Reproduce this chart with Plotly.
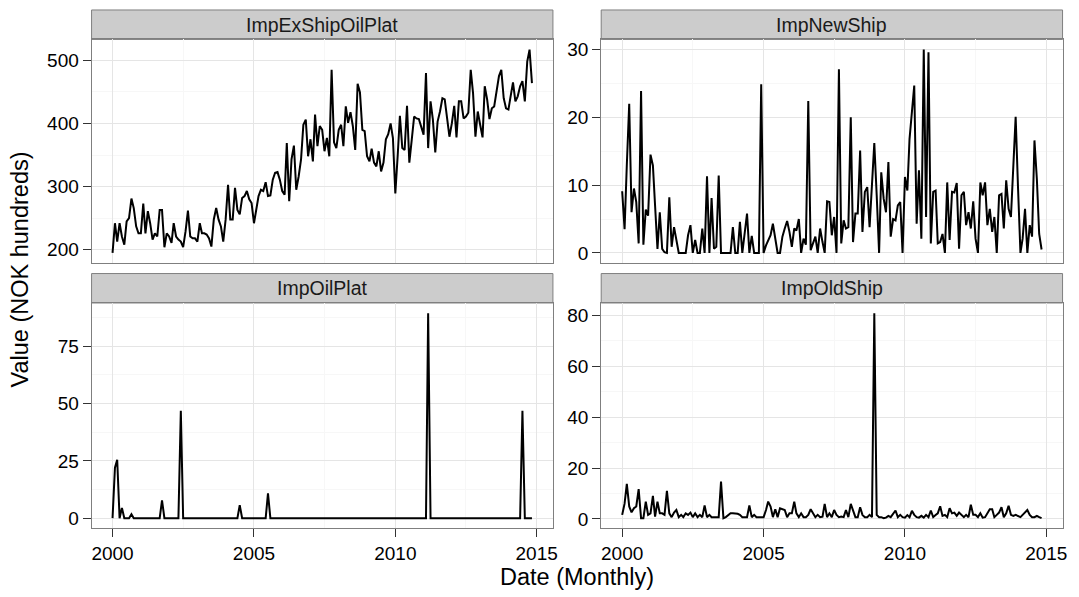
import pandas as pd
import plotly.graph_objects as go

dates = pd.date_range("2000-01-01", periods=179, freq="MS")

panel_titles = ["ImpExShipOilPlat", "ImpNewShip", "ImpOilPlat", "ImpOldShip"]

imp_ex_ship_oil_plat = [
    195, 242, 213, 242, 221, 208, 245, 250, 281, 266, 237, 226,
    226, 273, 226, 261, 242, 216, 226, 221, 263, 263, 204, 226,
    221, 211, 242, 221, 216, 213, 204, 229, 262, 221, 218, 218,
    213, 242, 226, 226, 224, 218, 205, 248, 266, 248, 237, 213,
    248, 303, 248, 248, 298, 263, 256, 282, 285, 293, 280, 274,
    242, 269, 285, 295, 293, 307, 285, 286, 311, 322, 323, 311,
    293, 287, 369, 277, 343, 365, 295, 316, 343, 398, 406, 348,
    375, 340, 414, 364, 396, 390, 356, 377, 348, 485, 370, 361,
    390, 398, 364, 427, 401, 418, 396, 358, 463, 449, 390, 388,
    348, 340, 360, 338, 332, 356, 324, 338, 375, 383, 400, 377,
    289, 350, 412, 361, 358, 428, 338, 374, 411, 408, 407, 395,
    382, 480, 361, 435, 406, 354, 403, 419, 440, 438, 411, 379,
    400, 428, 378, 435, 435, 408, 411, 417, 485, 448, 379, 419,
    398, 378, 459, 438, 407, 424, 427, 448, 475, 485, 440, 424,
    422, 445, 465, 435, 443, 459, 467, 435, 498, 517, 464,
]

imp_new_ship = [
    9.1, 3.5, 13, 22, 6, 9.5, 7.5, 1.4, 23.9, 1.2, 6.4, 5.5,
    14.5, 12.9, 7, 0.6, 6, 0.6, 0.1, 0, 8.2, 0.9, 3.8, 2.1,
    0, 0, 0, 0, 2.6, 4.1, 0, 1.9, 0, 0, 3.6, 0,
    11.3, 0, 8.1, 0.6, 0.9, 11.4, 0, 0, 0, 0, 0, 3.8,
    0, 0, 4.6, 0, 2.6, 5.8, 0, 2.5, 0, 0, 0, 24.9,
    0, 1.1, 1.9, 2.6, 4.3, 1.9, 0, 0, 2.4, 3.6, 4.7, 3.1,
    0.9, 3.6, 3.3, 5, 0, 2.1, 1.2, 22.4, 0.4, 1.4, 2.4, 0,
    3.6, 1.6, 0, 7.6, 7.5, 2.6, 5.3, 0, 27.1, 1.4, 4.8, 3.6,
    3.8, 20, 1.6, 5.8, 5.8, 15.1, 3.1, 9, 9.7, 3.8, 10.9, 16.2,
    8.5, 0, 11.9, 8, 6, 13.4, 2.4, 5, 4.8, 7, 7.5, 0,
    11.2, 9.2, 16.8, 20.7, 24.7, 4.3, 12.2, 2.1, 30, 5.3, 29.6, 1.4,
    9, 9.2, 1.4, 1.6, 2.8, 0, 10.4, 1.9, 9, 8.9, 10.3, 0.6,
    8.5, 9, 4.1, 6, 3.6, 7.6, 2.1, 0, 10.4, 8.5, 10.4, 4.1,
    6.5, 3.1, 5.3, 0, 8.5, 8.7, 3.6, 10.7, 6.5, 5.3, 12.2, 20.1,
    9.5, 0, 2.1, 6.5, 0, 4.1, 2.4, 16.6, 10.9, 2.8, 0.5,
]

imp_oil_plat = [
    0, 22, 25.5, 0, 4.5, 0, 0, 0, 1.7, 0, 0, 0,
    0, 0, 0, 0, 0, 0, 0, 0, 0, 7.8, 0, 0,
    0, 0, 0, 0, 0, 46.8, 0, 0, 0, 0, 0, 0,
    0, 0, 0, 0, 0, 0, 0, 0, 0, 0, 0, 0,
    0, 0, 0, 0, 0, 0, 5.7, 0, 0, 0, 0, 0,
    0, 0, 0, 0, 0, 0, 10.8, 0, 0, 0, 0, 0,
    0, 0, 0, 0, 0, 0, 0, 0, 0, 0, 0, 0,
    0, 0, 0, 0, 0, 0, 0, 0, 0, 0, 0, 0,
    0, 0, 0, 0, 0, 0, 0, 0, 0, 0, 0, 0,
    0, 0, 0, 0, 0, 0, 0, 0, 0, 0, 0, 0,
    0, 0, 0, 0, 0, 0, 0, 0, 0, 0, 0, 0,
    0, 0, 89.4, 0, 0, 0, 0, 0, 0, 0, 0, 0,
    0, 0, 0, 0, 0, 0, 0, 0, 0, 0, 0, 0,
    0, 0, 0, 0, 0, 0, 0, 0, 0, 0, 0, 0,
    0, 0, 0, 0, 0, 0, 46.8, 0, 0, 0, 0,
]

imp_old_ship = [
    1.6, 6, 13.8, 4.9, 2.6, 4.2, 4.9, 11.7, 0.3, 0.3, 6.8, 1.6,
    2.2, 9.1, 0.9, 6.8, 2.2, 2.2, 1.6, 11, 2.2, 0.7, 2.5, 3.5,
    0.7, 1.6, 0.7, 2.2, 1.6, 2.5, 0.7, 2.2, 0.7, 1.6, 0.7, 5.3,
    0.7, 1.6, 0.7, 0.7, 0.7, 0.7, 14.7, 0.3, 0.7, 1.6, 2.2, 2.2,
    2.2, 2, 1.6, 0.7, 0.7, 0.7, 5.3, 0.7, 1.6, 0.7, 0.7, 0.7,
    0.7, 3.5, 6.8, 4.9, 0.7, 3.8, 0.7, 4.2, 3.8, 3.5, 0.7, 2.2,
    2.2, 6.8, 2.2, 0.7, 2.2, 0.7, 0.7, 1.6, 3.8, 2.2, 0.7, 1.6,
    0.7, 0.9, 5.9, 0.7, 2.2, 0.7, 3.5, 1.6, 0.7, 0.9, 0.7, 3.5,
    0.7, 5.9, 3.5, 0.7, 0.7, 4.6, 1.6, 0.7, 0.7, 1.6, 0.7, 80.8,
    1.6, 0.7, 0.7, 0.3, 0.5, 1.2, 0.7, 1.9, 3.3, 0.7, 1.6, 0.7,
    0.5, 1.5, 0.7, 3.2, 1.6, 0.7, 0.5, 1.2, 0.5, 1.6, 0.7, 3.3,
    0.7, 1.5, 2.2, 5.0, 1.2, 1.6, 0.7, 4.2, 2.2, 2.5, 1.2, 2.5,
    1.6, 0.7, 1.6, 0.7, 5.6, 1.6, 1.6, 0.7, 2.2, 0.5, 0.7, 2.2,
    3.8, 3.8, 0.7, 1.6, 2.5, 4.6, 0.7, 2.2, 5.2, 1.6, 1.2, 1.6,
    1.2, 0.7, 1.6, 2.5, 3.5, 1.6, 0.7, 0.7, 1.2, 0.7, 0.3,
]

series = [imp_ex_ship_oil_plat, imp_new_ship, imp_oil_plat, imp_old_ship]
y_dticks = [100, 10, 25, 20]

W, H = 1079, 597
# panel pixel boxes (left, right, top, bottom)
cols = [(92, 555.5), (604, 1067.5)]
rows = [(39.5, 263.5), (303.5, 529.3)]
strip_h = 29.5

FONT = "Liberation Sans, Arial, Helvetica, sans-serif"
BORDER = "#7F7F7F"
GRID = "#E5E5E5"
MINOR = "#F7F7F7"

fig = go.Figure()
span = dates[-1] - dates[0]
xr = [dates[0] - span * 0.05, dates[-1] + span * 0.05]

shapes = []
annotations = []
for i, (title, vals, dt) in enumerate(zip(panel_titles, series, y_dticks)):
    r, c = divmod(i, 2)
    n = i + 1
    xa = "x" if n == 1 else f"x{n}"
    ya = "y" if n == 1 else f"y{n}"
    fig.add_trace(go.Scatter(x=dates, y=vals, mode="lines",
                             line=dict(color="black", width=2),
                             xaxis=xa, yaxis=ya, showlegend=False))
    l, rr = cols[c]
    t, b = rows[r]
    lo, hi = min(vals), max(vals)
    pad = (hi - lo) * 0.05
    bottom = (r == 1)
    fig.layout[f"xaxis{'' if n == 1 else n}"] = dict(
        domain=[l / W, rr / W], anchor=ya, range=xr, type="date",
        tick0="2000-01-01", dtick="M60", tickformat="%Y",
        showgrid=True, gridcolor=GRID, gridwidth=1,
        minor=dict(dtick="M30", tick0="2000-01-01", showgrid=True, gridcolor=MINOR, ticks=""),
        showline=True, linecolor=BORDER, linewidth=1, mirror=True,
        ticks="outside" if bottom else "", ticklen=8, tickcolor="#333333", tickwidth=1,
        showticklabels=bottom, zeroline=False,
        tickfont=dict(family=FONT, size=19, color="black"),
    )
    fig.layout[f"yaxis{'' if n == 1 else n}"] = dict(
        domain=[1 - b / H, 1 - t / H], anchor=xa, range=[lo - pad, hi + pad],
        dtick=dt, tick0=0,
        showgrid=True, gridcolor=GRID, gridwidth=1,
        minor=dict(dtick=dt / 2, tick0=0, showgrid=True, gridcolor=MINOR, ticks=""),
        showline=True, linecolor=BORDER, linewidth=1, mirror=True,
        ticks="outside", ticklen=8, tickcolor="#333333", tickwidth=1,
        zeroline=False,
        tickfont=dict(family=FONT, size=19, color="black"),
    )
    # strip
    shapes.append(dict(type="rect", xref="paper", yref="paper",
                       x0=l / W, x1=rr / W, y0=1 - t / H, y1=1 - (t - strip_h) / H,
                       fillcolor="#CCCCCC", line=dict(color=BORDER, width=1), layer="below"))
    annotations.append(dict(text=title, xref="paper", yref="paper",
                            x=(l + rr) / 2 / W, y=1 - (t - strip_h / 2) / H,
                            showarrow=False, xanchor="center", yanchor="middle",
                            font=dict(family=FONT, size=19.5, color="#1A1A1A")))

annotations.append(dict(text="Date (Monthly)", xref="paper", yref="paper",
                        x=580 / W, y=1 - 578 / H, showarrow=False,
                        xanchor="center", yanchor="middle",
                        font=dict(family=FONT, size=23.5, color="black")))
annotations.append(dict(text="Value (NOK hundreds)", xref="paper", yref="paper",
                        x=20 / W, y=1 - 270 / H, showarrow=False, textangle=-90,
                        xanchor="center", yanchor="middle",
                        font=dict(family=FONT, size=23.5, color="black")))

fig.update_layout(
    width=W, height=H, margin=dict(l=0, r=0, t=0, b=0),
    paper_bgcolor="white", plot_bgcolor="white",
    shapes=shapes, annotations=annotations,
)

fig.write_html("out.html")
